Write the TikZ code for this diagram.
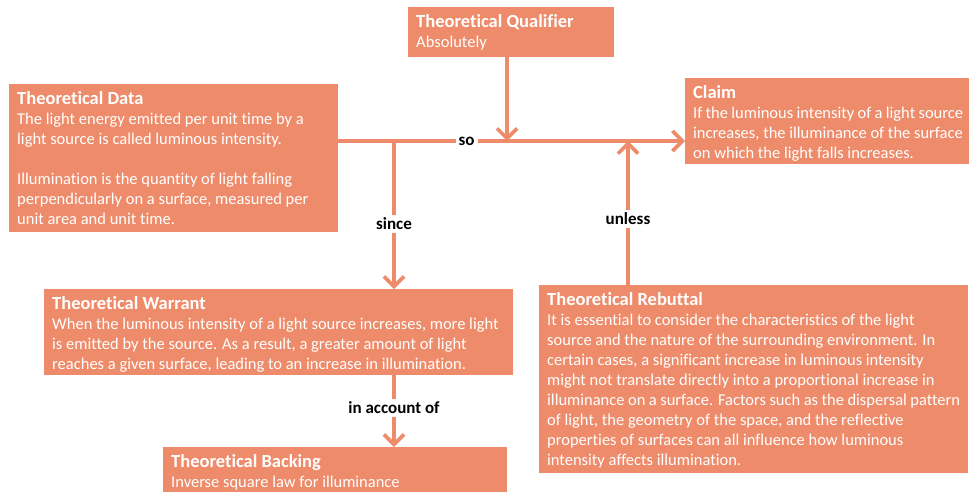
\documentclass[tikz,border=0pt]{standalone}
\usepackage{fontspec}
\setmainfont{Carlito}[Ligatures={NoCommon}]
\usetikzlibrary{arrows.meta}
\definecolor{salmon}{HTML}{EE8B6A}
\newcommand\boxtext[3]{\parbox[t][#2][t]{#1}{\fontsize{16.5}{20}\selectfont\raggedright #3}}
\newcommand\ttl[1]{{\rule{0pt}{20pt}\fontsize{18.5}{20}\selectfont\bfseries #1}}
\tikzset{
  card/.style={fill=salmon, draw=none, anchor=north west, inner xsep=8pt, inner ysep=0pt, text=white, align=left},
  conn/.style={draw=salmon, line width=3.6pt},
  arr/.style={conn, -{Straight Barb[length=10pt, width=20pt, line width=3.6pt]}},
  lbl/.style={fill=white, text=black, font=\fontsize{17}{18}\selectfont\bfseries, inner sep=3pt}
}
\begin{document}
\begin{tikzpicture}[x=1pt, y=-1pt]
\useasboundingbox (0,0) rectangle (969,491);
\clip (0,0) rectangle (969,491);
\node[card] (qual) at (408,7) {\boxtext{190pt}{50pt}{\ttl{Theoretical Qualifier}\\Absolutely}};
\node[card] (data) at (9,84) {\boxtext{313pt}{148pt}{\ttl{Theoretical Data}\\The light energy emitted per unit time by a\\light source is called luminous intensity.\\[20pt]Illumination is the quantity of light falling\\perpendicularly on a surface, measured per\\unit area and unit time.}};
\node[card] (claim) at (685,78) {\boxtext{270pt}{86pt}{\ttl{Claim}\\If the luminous intensity of a light source\\increases, the illuminance of the surface\\on which the light falls increases.}};
\node[card] (warr) at (44,289) {\boxtext{453pt}{86pt}{\ttl{Theoretical Warrant}\\When the luminous intensity of a light source increases, more light\\is emitted by the source. As a result, a greater amount of light\\reaches a given surface, leading to an increase in illumination.}};
\node[card] (back) at (163,447) {\boxtext{328pt}{60pt}{\ttl{Theoretical Backing}\\Inverse square law for illuminance}};
\node[card] (reb) at (539,285) {\boxtext{413pt}{188pt}{\ttl{Theoretical Rebuttal}\\It is essential to consider the characteristics of the light\\source and the nature of the surrounding environment. In\\certain cases, a significant increase in luminous intensity\\might not translate directly into a proportional increase in\\illuminance on a surface. Factors such as the dispersal pattern\\of light, the geometry of the space, and the reflective\\properties of surfaces can all influence how luminous\\intensity affects illumination.}};
\coordinate (j) at (394,141);
\coordinate (q) at (507,141);
\coordinate (r) at (628,141);
\draw[arr] (data.east |- j) -- node[lbl, pos=0.37] (so) {so} (claim.west |- j);
\draw[arr] (qual.south -| q) -- (q);
\draw[arr] (j) -- node[lbl, pos=0.56] (since) {since} (j |- warr.north);
\draw[arr] (r |- reb.north) -- node[lbl, pos=0.46] (unless) {unless} (r);
\draw[arr] (j |- warr.south) -- node[lbl, pos=0.45] (acc) {in account of} (j |- back.north);
\end{tikzpicture}
\end{document}
